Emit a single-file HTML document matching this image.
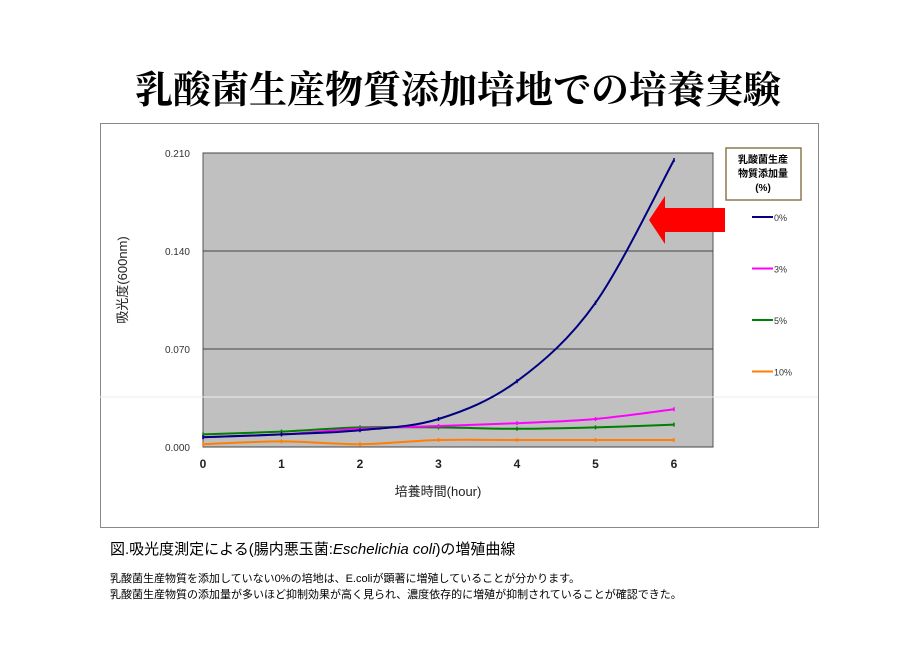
<!DOCTYPE html>
<html><head><meta charset="utf-8"><style>
body{margin:0;width:916px;height:647px;background:#fff;font-family:"Liberation Sans","Noto Sans CJK JP",sans-serif;position:relative;overflow:hidden}
.t{position:absolute;white-space:nowrap}
</style></head><body>
<div class="t" style="left:0;width:916px;text-align:center;top:59px;font-family:'Liberation Serif','Noto Serif CJK SC',serif;font-weight:bold;font-size:38px;color:#000">乳酸菌生産物質添加培地での培養実験</div>
<svg width="916" height="647" style="position:absolute;left:0;top:0">
<rect x="100.5" y="123.5" width="718" height="404" fill="#fff" stroke="#888"/>
<g id="plot"></g>
</svg>
<div class="t" style="left:110px;top:538px;font-size:15px">図.吸光度測定による(腸内悪玉菌:<i>Eschelichia coli</i>)の増殖曲線</div>
<div class="t" style="left:110px;top:570px;font-size:11px">乳酸菌生産物質を添加していない0%の培地は、E.coliが顕著に増殖していることが分かります。</div>
<div class="t" style="left:110px;top:586px;font-size:11px">乳酸菌生産物質の添加量が多いほど抑制効果が高く見られ、濃度依存的に増殖が抑制されていることが確認できた。</div>
<script>
const hours=[0,1,2,3,4,5,6];
const yTicks=[0,0.07,0.14,0.21];
const yTickLabels=["0.000","0.070","0.140","0.210"];
const seriesNames=["0%","3%","5%","10%"];
const s0=[0.007,0.009,0.012,0.020,0.047,0.103,0.205];
const s3=[0.007,0.009,0.013,0.015,0.017,0.020,0.027];
const s5=[0.009,0.011,0.014,0.014,0.013,0.014,0.016];
const s10=[0.002,0.004,0.002,0.005,0.005,0.005,0.005];
const colors=["#000080","#ff00ff","#008000","#ff7f00"];
const NS="http://www.w3.org/2000/svg";
const g=document.getElementById('plot');
const X0=203,X1=713,Y0=447,Y1=153;
const xs=h=>X0+h*78.5;
const ys=v=>Y0-(v/0.21)*(Y0-Y1);
function el(t,a){const e=document.createElementNS(NS,t);for(const k in a)e.setAttribute(k,a[k]);g.appendChild(e);return e;}
const bg=el('rect',{x:X0,y:Y1,width:X1-X0,height:Y0-Y1,fill:'#c0c0c0',stroke:'#555'});


yTicks.forEach((v,i)=>{
 const l=el('line',{x1:X0,x2:X1,y1:ys(v),y2:ys(v),stroke:'#444'});
 
 
 const t=el('text',{x:X0-13,y:ys(v)+4,'text-anchor':'end','font-size':10,fill:'#333'});
 t.textContent=yTickLabels[i];
 
 
});
const wl=el('line',{x1:100,x2:818,y1:397,y2:397,stroke:'#eee'});


hours.forEach(h=>{
 const t=el('text',{x:xs(h),y:Y0+21,'text-anchor':'middle','font-size':12,'font-weight':'bold',fill:'#222'});
 t.textContent=h;
 
 
});
const xt=el('text',{x:438,y:496,'text-anchor':'middle','font-size':13,fill:'#222'});
xt.textContent='培養時間(hour)';


const yt=el('text',{x:0,y:0,'text-anchor':'middle','font-size':13,fill:'#222',transform:'translate(127,280) rotate(-90)'});
yt.textContent='吸光度(600nm)';


function smooth(pts){let d='M'+pts[0][0]+','+pts[0][1];for(let i=0;i<pts.length-1;i++){const p0=pts[i-1]||pts[i],p1=pts[i],p2=pts[i+1],p3=pts[i+2]||p2;d+=' C'+(p1[0]+(p2[0]-p0[0])/6)+','+(p1[1]+(p2[1]-p0[1])/6)+' '+(p2[0]-(p3[0]-p1[0])/6)+','+(p2[1]-(p3[1]-p1[1])/6)+' '+p2[0]+','+p2[1];}return d;}
[s10,s5,s3,s0].forEach((s,j)=>{
 const i=3-j;
 const p=el('path',{d:smooth(s.map((v,k)=>[xs(hours[k]),ys(v)])),fill:'none',stroke:colors[i],'stroke-width':2});
 
 
 s.forEach((v,k)=>{
  const m=el('line',{x1:xs(hours[k]),x2:xs(hours[k]),y1:ys(v)-2,y2:ys(v)+2,stroke:colors[i],'stroke-width':1.5});
  
  
 });
});
const lb=el('rect',{x:726,y:148,width:75,height:52,fill:'#fff',stroke:'#8a7a50','stroke-width':1.5});


['乳酸菌生産','物質添加量','(%)'].forEach((s,k)=>{
 const t=el('text',{x:763,y:163+k*14,'text-anchor':'middle','font-size':10,'font-weight':'bold'});
 t.textContent=s;
 
 
});
seriesNames.forEach((n,i)=>{
 const y=217+i*51.5;
 const l=el('line',{x1:752,x2:773,y1:y,y2:y,stroke:colors[i],'stroke-width':2});
 
 
 const t=el('text',{x:774,y:y+4,'font-size':9,fill:'#333'});
 t.textContent=n;
 
 
});
const ar=el('polygon',{points:'649,220 665,196 665,208 725,208 725,232 665,232 665,244',fill:'#ff0000'});


</script>
</body></html>
